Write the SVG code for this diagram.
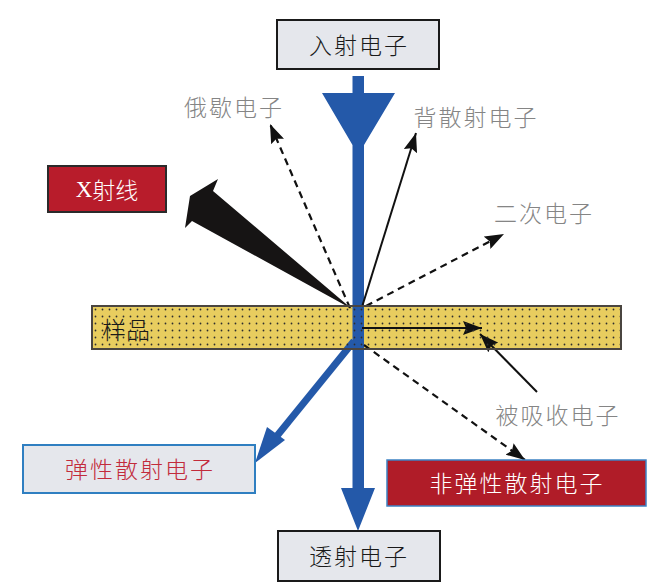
<svg xmlns="http://www.w3.org/2000/svg" width="663" height="584" viewBox="0 0 663 584">
<style>
.lbl{font-family:"Noto Sans CJK SC","Noto Sans",sans-serif;font-size:23px;font-weight:300;letter-spacing:2px;text-anchor:middle;dominant-baseline:central}
.gray{fill:#858585}
.box{fill:#e5e7ec;stroke:#1a1a1a;stroke-width:2}
.dash{stroke:#111;stroke-width:2.2;stroke-dasharray:7 5;fill:none}
.solid{stroke:#111;stroke-width:2;fill:none}
.blue{fill:#2459a9}
</style>
<defs>
<marker id="ah" markerUnits="userSpaceOnUse" markerWidth="20" markerHeight="14" refX="19" refY="7" orient="auto">
<path d="M0,0 L19,7 L0,14 L3,7 z" fill="#111"/>
</marker>
<pattern id="dots" width="7" height="7" patternUnits="userSpaceOnUse" x="92" y="306">
<circle cx="3.5" cy="3.5" r="0.9" fill="#2e2e2e"/>
</pattern>
</defs>
<rect width="663" height="584" fill="#fff"/>

<g id="sample">
<rect x="92" y="306" width="529" height="43" fill="#e8cd5f"/>
</g>

<g id="connectors">
<polygon class="blue" points="352.5,76 364,76 364,93 395,93 364,145 364,488 375,488 358,531 341,488 352.5,488 352.5,145 322,93 352.5,93"/>
<line x1="354" y1="341" x2="272" y2="442" stroke="#2459a9" stroke-width="7"/>
<polygon class="blue" points="255,463 267,427 285,440"/>
<polygon fill="#161414" points="352,309 213,191 218,179 190,196 185,228 192,221"/>
<line class="dash" x1="350" y1="308" x2="270" y2="124" marker-end="url(#ah)"/>
<line class="solid" x1="362" y1="307" x2="416" y2="133" marker-end="url(#ah)"/>
<line class="dash" x1="366" y1="306" x2="504" y2="234" marker-end="url(#ah)"/>
<line class="dash" x1="364" y1="345" x2="525" y2="460" marker-end="url(#ah)"/>
<line class="solid" x1="362" y1="328" x2="482" y2="328" stroke-width="1.6" marker-end="url(#ah)"/>
<line class="solid" x1="537" y1="392" x2="480" y2="334" marker-end="url(#ah)"/>
</g>

<g id="sample-overlay">
<rect x="92" y="306" width="529" height="43" fill="url(#dots)" stroke="#4a4540" stroke-width="2"/>
<text x="126" y="328" class="lbl" style="font-size:24px;letter-spacing:0" fill="#1a1a1a">样品</text>
</g>

<g id="incident">
<rect class="box" x="277" y="20" width="162" height="49"/>
<text x="359" y="44" class="lbl" fill="#1a1a1a">入射电子</text>
</g>

<g id="transmitted">
<rect class="box" x="278" y="531" width="162" height="50"/>
<text x="359" y="555" class="lbl" fill="#1a1a1a">透射电子</text>
</g>

<g id="xray">
<rect x="48" y="166" width="118" height="46" fill="#b81c2b" stroke="#2a2a2a" stroke-width="2"/>
<text x="107" y="189" class="lbl" fill="#fff" style="letter-spacing:0"><tspan font-family="Liberation Serif,serif">X</tspan>射线</text>
</g>

<g id="elastic">
<rect x="23" y="445" width="232" height="48" fill="#e5e7ec" stroke="#2f7fc1" stroke-width="2"/>
<text x="140" y="468" class="lbl" fill="#c22b3b">弹性散射电子</text>
</g>

<g id="inelastic">
<rect x="387" y="460" width="259" height="46" fill="#b01c28" stroke="#3d82c4" stroke-width="1.5"/>
<text x="517" y="482" class="lbl" fill="#fff">非弹性散射电子</text>
</g>

<g id="auger"><text x="234" y="106" class="lbl gray">俄歇电子</text></g>
<g id="backscattered"><text x="476" y="116" class="lbl gray">背散射电子</text></g>
<g id="secondary"><text x="544" y="212" class="lbl gray">二次电子</text></g>
<g id="absorbed"><text x="558" y="414" class="lbl gray">被吸收电子</text></g>
</svg>
